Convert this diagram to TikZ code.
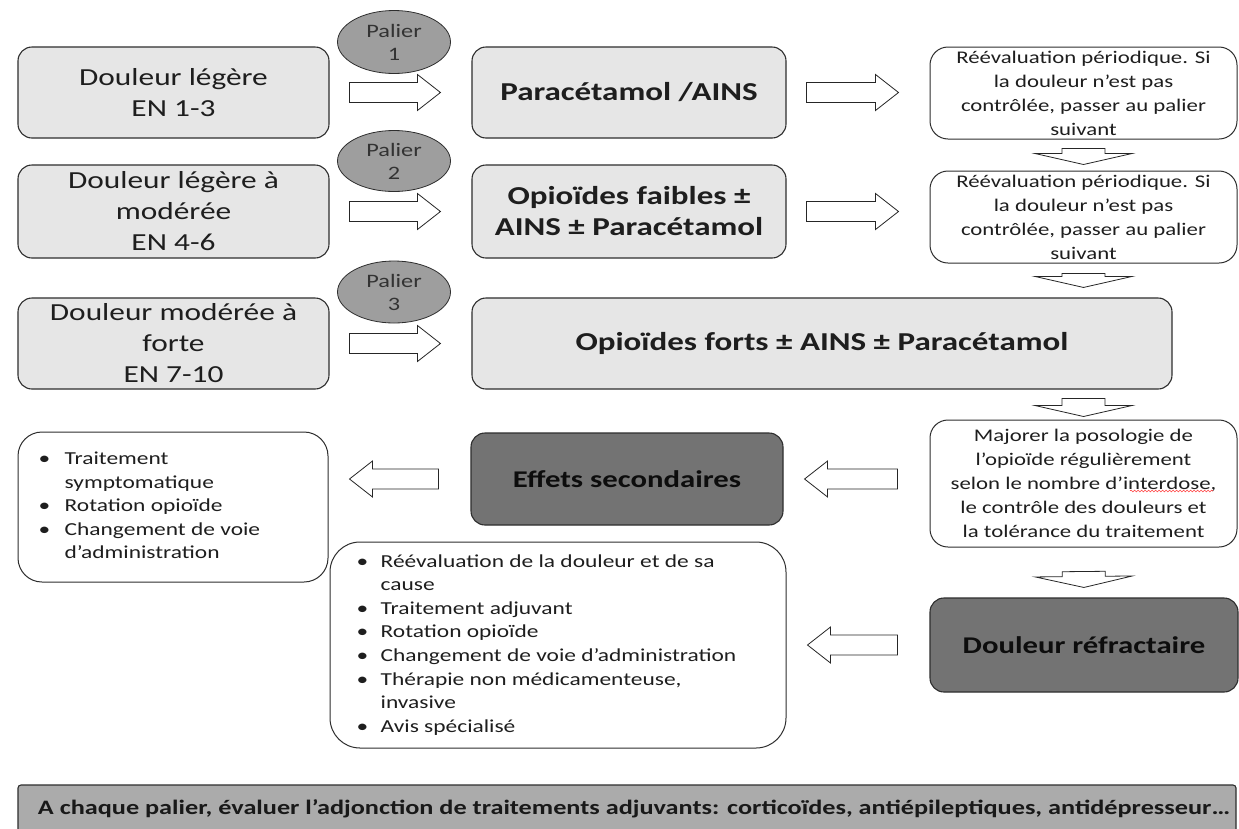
\documentclass[tikz,border=0pt]{standalone}
\usepackage{fontspec}
\setmainfont{Carlito}[FakeStretch=1.28]
\usetikzlibrary{calc,shapes.geometric,decorations.pathmorphing}
\definecolor{lightbox}{HTML}{E6E6E6}
\definecolor{darkbox}{HTML}{737373}
\definecolor{ellfill}{HTML}{9E9E9E}
\definecolor{barfill}{HTML}{ABABAB}
\definecolor{edge}{HTML}{2E2E2E}
\definecolor{txt}{HTML}{1E1E1E}
\begin{document}
\begin{tikzpicture}[x=1pt,y=-1pt,
  basebox/.style={draw=edge, line width=1.1pt, inner sep=0pt, align=center, text=txt},
  lbox/.style={basebox, fill=lightbox, rounded corners=14pt, font=\fontsize{24.5}{31}\selectfont},
  bbox/.style={basebox, fill=lightbox, rounded corners=14pt, font=\bfseries\fontsize{25.8}{31}\selectfont},
  wbox/.style={basebox, fill=white, rounded corners=18pt, line width=1pt, font=\fontsize{17.8}{24}\selectfont},
  dbox/.style={basebox, fill=darkbox, rounded corners=14pt, font=\bfseries\fontsize{24}{30}\selectfont, text=black!95},
  ell/.style={draw=edge, line width=0.8pt, fill=ellfill, ellipse, inner sep=0pt, align=center, text=black!80, font=\fontsize{19}{23}\selectfont},
  listtxt/.style={inner sep=0pt, anchor=west, align=left, text=txt, font=\fontsize{18.3}{23.6}\selectfont},
  barbox/.style={draw=edge, line width=1.1pt, fill=barfill, rounded corners=3pt, inner sep=0pt, text=black!90, font=\bfseries\fontsize{20.5}{24}\selectfont},
  squig/.style={draw=red!75, line width=0.6pt, decorate, decoration={snake, amplitude=0.9pt, segment length=3.5pt}},
  blk/.style n args={5}{draw=black!85, fill=white, line width=0.8pt, line join=miter,
    to path={
      ($(\tikztostart)!#1!(\tikztotarget)!#4!90:(\tikztotarget)$)
      -- ($(\tikztotarget)!#2!(\tikztostart)!#3!(\tikztostart)!#4!-90:(\tikztostart)$)
      -- ($(\tikztotarget)!#2!(\tikztostart)!#3!(\tikztostart)!#5!-90:(\tikztostart)$)
      -- ($(\tikztotarget)!#2!(\tikztostart)$)
      -- ($(\tikztotarget)!#2!(\tikztostart)!#3!(\tikztostart)!#5!90:(\tikztostart)$)
      -- ($(\tikztotarget)!#2!(\tikztostart)!#3!(\tikztostart)!#4!90:(\tikztostart)$)
      -- ($(\tikztostart)!#1!(\tikztotarget)!#4!-90:(\tikztotarget)$)
      -- cycle}},
  rblk/.style={blk={20pt}{31pt}{23pt}{10pt}{18pt}},
  lblk/.style={blk={32pt}{21pt}{23pt}{10pt}{18pt}},
  dblk/.style 2 args={blk={#1}{#2}{11pt}{21.5pt}{48.5pt}}
]
\useasboundingbox (0,0) rectangle (1239,828);
\clip (0,0) rectangle (1239,828);
\fill[white] (0,0) rectangle (1239,828);

% left column
\node[lbox, minimum width=311pt, minimum height=91pt] (A1) at (173.5,92.5) {Douleur légère\\EN 1-3};
\node[lbox, minimum width=311pt, minimum height=93pt] (A2) at (173.5,211.5) {Douleur légère à\\modérée\\EN 4-6};
\node[lbox, minimum width=311pt, minimum height=91pt] (A3) at (173.5,343.5) {Douleur modérée à\\forte\\EN 7-10};

% middle column
\node[bbox, minimum width=314pt, minimum height=91pt] (B1) at (629,92.5) {Paracétamol /AINS};
\node[bbox, minimum width=314pt, minimum height=93pt] (B2) at (629,211.5) {Opioïdes faibles ±\\AINS ± Paracétamol};
\node[bbox, minimum width=700pt, minimum height=91pt] (B3) at (822,343.5) {Opioïdes forts ± AINS ± Paracétamol};

% right column
\node[wbox, minimum width=307pt, minimum height=92pt] (C1) at (1083.5,93) {Réévaluation périodique. Si\\la douleur n’est pas\\contrôlée, passer au palier\\suivant};
\node[wbox, minimum width=307pt, minimum height=92pt] (C2) at (1083.5,217) {Réévaluation périodique. Si\\la douleur n’est pas\\contrôlée, passer au palier\\suivant};
\node[wbox, minimum width=307pt, minimum height=127pt] (C4) at (1083.5,483.5) {Majorer la posologie de\\l’opioïde régulièrement\\selon le nombre d’interdose,\\le contrôle des douleurs et\\la tolérance du traitement};
\draw[squig] (1130,491) -- (1213,491);

% dark boxes
\node[dbox, minimum width=312pt, minimum height=92pt] (Eff) at (627,479) {Effets secondaires};
\node[dbox, minimum width=308pt, minimum height=94pt] (Ref) at (1084,645) {Douleur réfractaire};

% list boxes
\node[wbox, rounded corners=24pt, minimum width=310pt, minimum height=150pt] (D1) at (173,507) {};
\node[listtxt] (D1t) at ($(D1.west)+(21,0)$) {\begin{tabular}{@{}p{26pt}@{}l@{}}
•&Traitement\\
&symptomatique\\
•&Rotation opioïde\\
•&Changement de voie\\
&d’administration
\end{tabular}};
\node[wbox, rounded corners=30pt, minimum width=456pt, minimum height=206pt] (D2) at (558,645) {};
\node[listtxt] (D2t) at ($(D2.west)+(27,0)$) {\begin{tabular}{@{}p{24pt}@{}l@{}}
•&Réévaluation de la douleur et de sa\\
&cause\\
•&Traitement adjuvant\\
•&Rotation opioïde\\
•&Changement de voie d’administration\\
•&Thérapie non médicamenteuse,\\
&invasive\\
•&Avis spécialisé
\end{tabular}};

% palier ellipses
\node[ell, minimum width=113pt, minimum height=63pt] (P1) at (394,42) {Palier\\1};
\node[ell, minimum width=113pt, minimum height=61pt] (P2) at (394,161) {Palier\\2};
\node[ell, minimum width=113pt, minimum height=62pt] (P3) at (394,292) {Palier\\3};

% bottom bar
\node[barbox, minimum width=1218pt, minimum height=48pt] (bar) at (627,809) {\hspace{14pt}A chaque palier, évaluer l’adjonction de traitements adjuvants: corticoïdes, antiépileptiques, antidépresseur…};

% block arrows
\draw[rblk] (A1.east) to (B1.west);
\draw[rblk] (A2.east) to (B2.west);
\draw[rblk] (A3.east) to (B3.west);
\draw[rblk] (B1.east) to (C1.west |- B1.east);
\draw[rblk] (B2.east) to (C2.west |- B2.east);
\draw[lblk] (Eff.west) to (D1.east |- Eff.west);
\draw[lblk] (C4.west |- Eff.east) to (Eff.east);
\draw[lblk] (Ref.west) to (D2.east |- Ref.west);
\draw[dblk={9pt}{6pt}] (C1.south) to (C2.north);
\draw[dblk={10pt}{10pt}] (C2.south) to (C2.south |- B3.north);
\draw[dblk={9pt}{3pt}] (C4.north |- B3.south) to (C4.north);
\draw[dblk={24pt}{10pt}] (C4.south) to (Ref.north);
\end{tikzpicture}
\end{document}
